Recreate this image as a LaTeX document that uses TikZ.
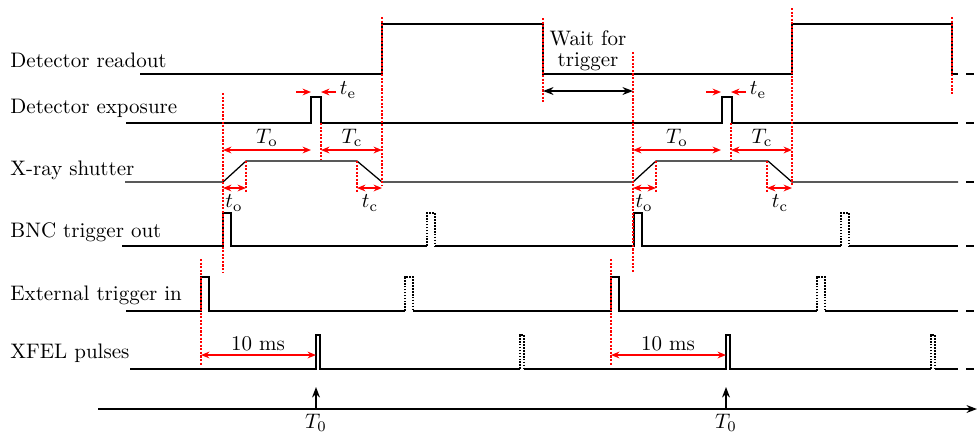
\documentclass[tikz,border=0pt]{standalone}
\usetikzlibrary{arrows.meta}

\begin{document}
\begin{tikzpicture}[x=0.476pt, y=-0.476pt, >={Stealth[length=4pt, width=3.2pt]},
  sig/.style={line width=0.6pt},
  ghost/.style={line width=0.5pt, dash pattern=on 0.8pt off 0.6pt},
  tmark/.style={red, line width=0.5pt, dash pattern=on 1pt off 0.7pt},
  span/.style={red, line width=0.8pt, <->},
  lbl/.style={anchor=base west, inner sep=0pt}]
  \useasboundingbox (0,0) rectangle (977,435);

  % signal names
  \node[lbl] (readout) at (10,67) {Detector readout};
  \node[lbl] (exposure) at (10,113) {Detector exposure};
  \node[lbl] (shutter) at (10,175) {X-ray shutter};
  \node[lbl] (bnc) at (10,237) {BNC trigger out};
  \node[lbl] (ext) at (10,300) {External trigger in};
  \node[lbl] (xfel) at (10,358) {XFEL pulses};

  % signals
  \draw[sig] (140,74) -- (382,74) -- (382,24) -- (543,24) -- (543,74)
    -- (792,74) -- (792,24) -- (952,24) -- (952,74) -- (958,74);
  \draw[sig] (126,123) -- (311,123) |- (321,97) |- (722,123) |- (732,97) |- (958,123);
  \draw[sig] (125,182) -- (223,182) -- (246,161) -- (357,161) -- (382,182)
    -- (633,182) -- (656,161) -- (768,161) -- (792,182) -- (958,182);
  \draw[sig] (122,246) -- (223,246) |- (231,213) |- (427,246)
    (435,246) -- (634,246) |- (642,213) |- (841,246) (849,246) -- (958,246);
  \draw[sig] (126,311) -- (201,311) |- (209,277) |- (405,311)
    (413,311) -- (611,311) |- (619,277) |- (817,311) (825,311) -- (958,311);
  \draw[sig] (130,369) -- (316,369) |- (320,335) |- (520,369)
    (524,369) -- (726,369) |- (730,335) |- (931,369) (935,369) -- (958,369);
  % skipped pulses
  \draw[ghost] (427,246) |- (435,213) -- (435,246);
  \draw[ghost] (841,246) |- (849,213) -- (849,246);
  \draw[ghost] (405,311) |- (413,277) -- (413,311);
  \draw[ghost] (817,311) |- (825,277) -- (825,311);
  \draw[ghost] (520,369) |- (524,335) -- (524,369);
  \draw[ghost] (931,369) |- (935,335) -- (935,369);
  \foreach \y in {74,123,182,246,311,369}
    \draw[sig] (966,\y) -- (974,\y);

  % time axis
  \draw[sig, ->, >={Stealth[length=5pt]}] (98,409) -- (977,409);

  % timing marks
  \draw[tmark] (223,93) -- (223,272);
  \draw[tmark] (633,52) -- (633,272);
  \draw[tmark] (382,17) -- (382,185);
  \draw[tmark] (792,8) -- (792,185);
  \draw[tmark] (543,18) -- (543,103);
  \draw[tmark] (952,17) -- (952,95);

  % wait for trigger
  \node[align=center] (wait) at (588,51) {Wait for\\[-2pt]trigger};
  \draw[line width=0.8pt, <->, >={Stealth[length=5pt]}] (543,91) -- (633,91);

  \foreach \d in {0,410} {
    \draw[tmark] (201+\d,259) -- (201+\d,365);
    \draw[tmark] (246+\d,161) -- (246+\d,193);
    \draw[tmark] (357+\d,161) -- (357+\d,193);
    \draw[tmark] (321+\d,123) -- (321+\d,160);
    \draw[span] (223+\d,150) -- (311+\d,150);
    \draw[span] (321+\d,150) -- (382+\d,150);
    \draw[span] (223+\d,188) -- (246+\d,188);
    \draw[span] (357+\d,188) -- (382+\d,188);
    \draw[span] (201+\d,355) -- (316+\d,355);
    \draw[red, line width=0.8pt, ->] (296+\d,92) -- (311+\d,92);
    \draw[red, line width=0.8pt, ->] (336+\d,92) -- (321+\d,92);
    \node (To\d) at (267+\d,138) {$T_\mathrm{o}$};
    \node (Tc\d) at (352+\d,138) {$T_\mathrm{c}$};
    \node (to\d) at (234+\d,203) {$t_\mathrm{o}$};
    \node (tc\d) at (370+\d,203) {$t_\mathrm{c}$};
    \node (te\d) at (348+\d,90) {$t_\mathrm{e}$};
    \node (ms\d) at (258+\d,344) {10 ms};
    \node (Tz\d) at (316+\d,423) {$T_0$};
    \draw[line width=0.8pt, ->, >={Stealth[length=5pt]}] (316+\d,409) -- (316+\d,387);
  }
\end{tikzpicture}
\end{document}
